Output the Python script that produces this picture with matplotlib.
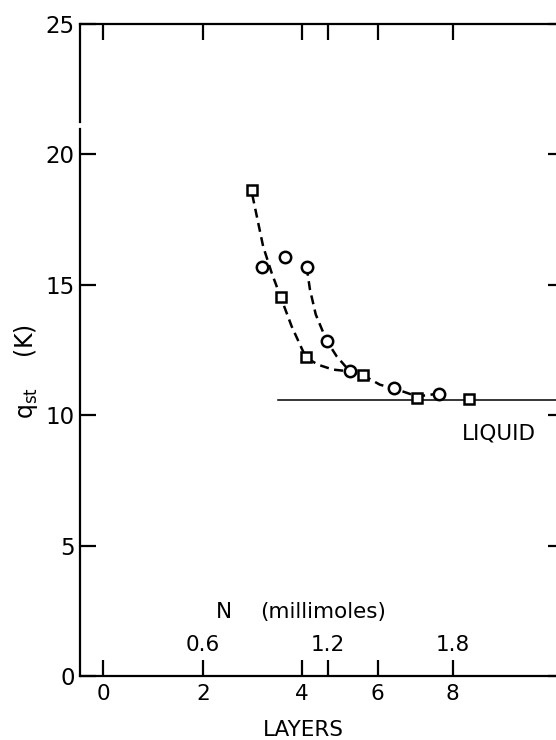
import matplotlib.pyplot as plt

# x axis is linear in N (millimoles); LAYERS ticks sit at their N positions
layer_tick_n = [0.12, 0.60, 1.075, 1.20, 1.44, 1.80]
layer_labels = ['0', '2', '4', '', '6', '8']
n_ticks = [0.6, 1.2, 1.8]
n_labels = ['0.6', '1.2', '1.8']
q_ticks = [0, 5, 10, 15, 20, 25]

# measured points
sq_n = [0.837, 0.973, 1.094, 1.370, 1.629, 1.878]
sq_q = [18.63, 14.54, 12.22, 11.53, 10.65, 10.62]
circ_n = [0.882, 0.994, 1.098, 1.194, 1.306, 1.517, 1.734]
circ_q = [15.69, 16.07, 15.69, 12.86, 11.68, 11.03, 10.83]

# hand-drawn dashed curves
curve_a_n = [0.837, 0.889, 0.930, 0.973, 1.026, 1.094, 1.152, 1.224, 1.306,
             1.370, 1.450, 1.517, 1.629, 1.734]
curve_a_q = [18.46, 16.48, 15.46, 14.54, 13.41, 12.22, 11.94, 11.75, 11.68,
             11.53, 11.17, 11.03, 10.72, 10.83]
curve_b_n = [1.098, 1.114, 1.142, 1.194, 1.243, 1.306]
curve_b_q = [15.69, 14.82, 13.86, 12.86, 12.25, 11.68]

# bulk liquid heat of vaporization line
liquid_n = [0.96, 2.40]
liquid_q = [10.6, 10.6]

fig = plt.figure(figsize=(5.56, 7.40), dpi=100)
ax = fig.add_axes([0.144, 0.0865, 0.870, 0.881])
ax.set_xlim(0.01, 2.333)
ax.set_ylim(0, 25)

dash = dict(color='black', lw=1.8, dashes=(3.6, 2.2))
ax.plot(curve_a_n, curve_a_q, **dash)
ax.plot(curve_b_n, curve_b_q, **dash)
ax.plot(liquid_n, liquid_q, color='black', lw=1.1)

ax.plot(sq_n, sq_q, ls='none', marker='s', ms=7.8, mfc='white', mec='black', mew=1.8)
ax.plot(circ_n, circ_q, ls='none', marker='o', ms=8.2, mfc='white', mec='black', mew=1.8)

# ticks
ax.set_xticks(layer_tick_n)
ax.set_xticklabels(layer_labels)
ax.set_yticks(q_ticks)
ax.tick_params(direction='in', length=11.5, width=1.6, top=True, right=True,
               labelsize=15.5, pad=6)
ax.tick_params(axis='y', labelsize=16.5, pad=4)

for s in ax.spines.values():
    s.set_linewidth(1.6)
# left axis has a small break just above 20
ax.spines['left'].set_visible(False)
yt = ax.get_yaxis_transform()
ax.plot([0, 0], [0, 20.96], transform=yt, color='black', lw=1.6, clip_on=False)
ax.plot([0, 0], [21.23, 25], transform=yt, color='black', lw=1.6, clip_on=False)

# inner N (millimoles) scale
for n, lab in zip(n_ticks, n_labels):
    ax.text(n, 1.2, lab, ha='center', va='center', fontsize=15.5)
ax.text(0.70, 2.46, 'N', ha='center', va='center', fontsize=15.5)
ax.text(1.176, 2.46, '(millimoles)', ha='center', va='center', fontsize=15.5)

ax.text(2.02, 9.29, 'LIQUID', ha='center', va='center', fontsize=15.5)

fig.text(303 / 556, 1 - 730 / 740, 'LAYERS', ha='center', va='center', fontsize=15.5)
fig.text(26 / 556, 1 - 372 / 740, r'$\mathregular{q_{st}}$    (K)', rotation=90,
         ha='center', va='center', fontsize=17)

fig.savefig('out.png', dpi=100)
